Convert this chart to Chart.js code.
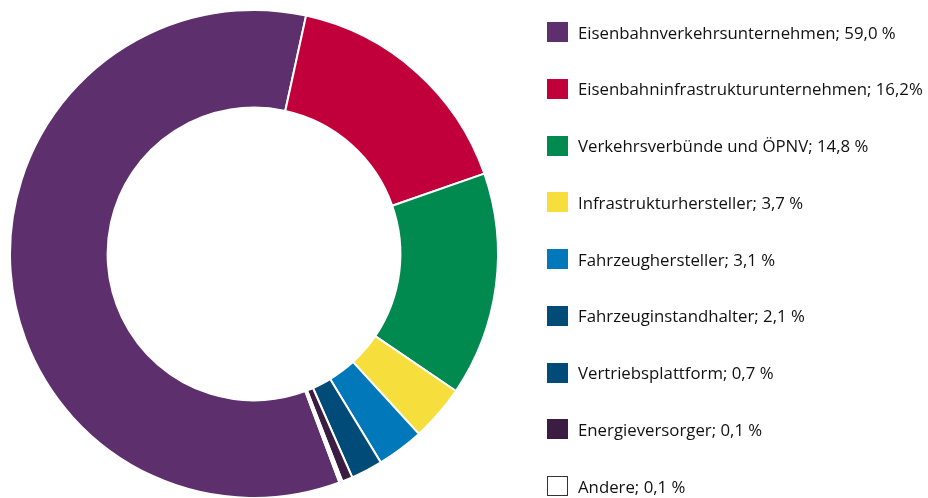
<!DOCTYPE html>
<html><head><meta charset="utf-8">
<script src="https://cdn.jsdelivr.net/npm/chart.js@4/dist/chart.umd.min.js"></script>
<style>
html,body{margin:0;padding:0;background:#fff;width:928px;height:498px;overflow:hidden;}
#wrap{position:absolute;left:0;top:9px;width:508px;height:490px;}
#legend{position:absolute;left:0;top:0;width:928px;height:498px;pointer-events:none;}
.row{position:absolute;left:547px;height:20px;display:flex;align-items:center;font-family:"Open Sans",sans-serif;font-size:16.8px;color:#111;white-space:nowrap;}
.box{width:21px;height:20px;box-sizing:border-box;margin-right:10px;flex:none;}
</style></head>
<body>
<div id="wrap"><canvas id="c"></canvas></div>
<div id="legend"></div>
<script>
const categories = ["Eisenbahnverkehrsunternehmen","Eisenbahninfrastrukturunternehmen","Verkehrsverbünde und ÖPNV","Infrastrukturhersteller","Fahrzeughersteller","Fahrzeuginstandhalter","Vertriebsplattform","Energieversorger","Andere"];
const values = [59.0, 16.2, 14.8, 3.7, 3.1, 2.1, 0.7, 0.1, 0.1];
const legendLabels = ["Eisenbahnverkehrsunternehmen; 59,0 %","Eisenbahninfrastrukturunternehmen; 16,2%","Verkehrsverbünde und ÖPNV; 14,8 %","Infrastrukturhersteller; 3,7 %","Fahrzeughersteller; 3,1 %","Fahrzeuginstandhalter; 2,1 %","Vertriebsplattform; 0,7 %","Energieversorger; 0,1 %","Andere; 0,1 %"];
const legendColors = ["#5e2f6d","#c1003b","#008a4f","#f6df3c","#0078b9","#004b78","#004b78","#3b1d44","#ffffff"];
const sliceColors = ["#5e2f6d","#c1003b","#008a4f","#f6df3c","#0078b9","#004b78","#3b1d44","#ffffff","#ffffff"];

new Chart(document.getElementById('c'), {
  type: 'doughnut',
  data: { labels: categories, datasets: [{ data: values, backgroundColor: sliceColors, borderColor: '#ffffff', borderWidth: 2 }] },
  options: {
    responsive: true, maintainAspectRatio: false, animation: false,
    rotation: 159.5, cutout: '60%',
    layout: { padding: 0 },
    plugins: { legend: { display: false }, tooltip: { enabled: false } }
  }
});

const lg = document.getElementById('legend');
legendLabels.forEach((t, i) => {
  const r = document.createElement('div');
  r.className = 'row';
  r.style.top = (22 + i * 56.75) + 'px';
  const b = document.createElement('div');
  b.className = 'box';
  b.style.background = legendColors[i];
  if (legendColors[i] === '#ffffff') b.style.border = '1px solid #333';
  const s = document.createElement('span');
  s.textContent = t;
  r.appendChild(b); r.appendChild(s);
  lg.appendChild(r);
});
</script>
</body></html>
